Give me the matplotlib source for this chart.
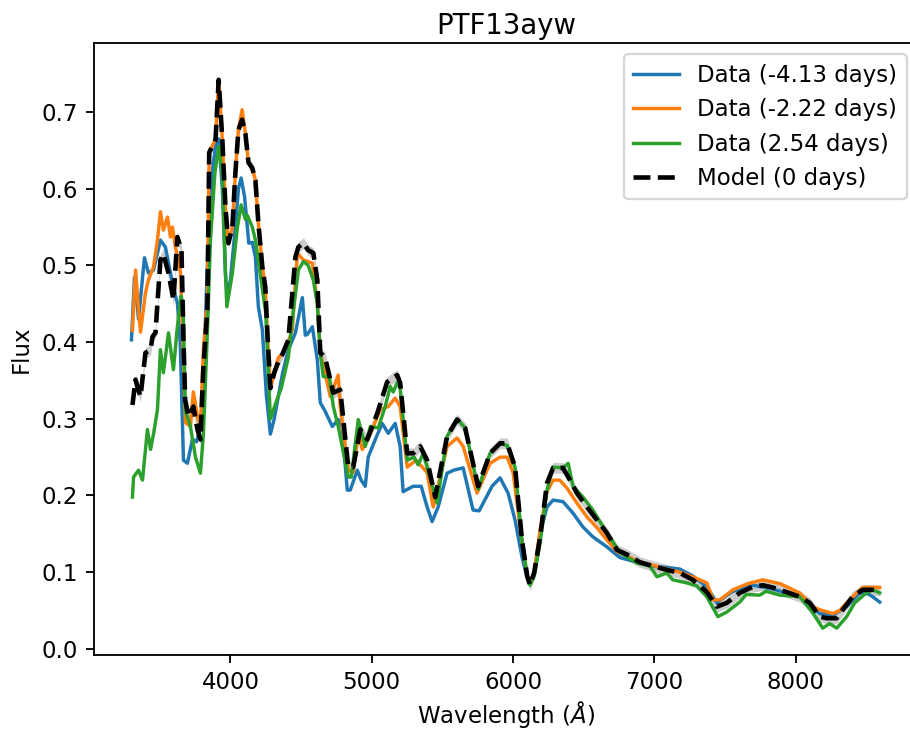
import matplotlib
matplotlib.use('Agg')
import matplotlib.pyplot as plt
import numpy as np

# blue: Data (-4.13 days)
wave_b = [3300, 3322, 3350, 3392, 3420, 3456, 3484, 3505, 3540, 3576, 3611, 3625, 3645, 3668, 3696,
          3731, 3760, 3790, 3809, 3837, 3870, 3895, 3917, 3943, 3965, 3975, 4000, 4035, 4057, 4076,
          4100, 4120, 4130, 4155, 4177, 4198, 4226, 4255, 4283, 4310, 4340, 4370, 4410, 4460, 4509,
          4530, 4544, 4580, 4615, 4636, 4670, 4721, 4763, 4790, 4827, 4848, 4898, 4925, 4954, 4975,
          5025, 5074, 5117, 5166, 5201, 5222, 5293, 5350, 5392, 5427, 5470, 5533, 5580, 5647, 5717,
          5760, 5851, 5908, 5965, 6014, 6063, 6100, 6120, 6150, 6191, 6240, 6283, 6353, 6424, 6494,
          6565, 6664, 6756, 6897, 6968, 7088, 7180, 7272, 7371, 7442, 7475, 7555, 7696, 7837, 8028,
          8170, 8262, 8360, 8452, 8500, 8544, 8594]
flux_b = [0.403, 0.485, 0.43, 0.51, 0.49, 0.494, 0.516, 0.533, 0.524, 0.49, 0.46, 0.451, 0.40, 0.246, 0.242,
          0.273, 0.27, 0.29, 0.35, 0.50, 0.62, 0.655, 0.665, 0.60, 0.49, 0.464, 0.48, 0.55, 0.60, 0.614,
          0.59, 0.55, 0.529, 0.53, 0.511, 0.446, 0.416, 0.33, 0.28, 0.30, 0.33, 0.36, 0.39, 0.412, 0.458,
          0.409, 0.41, 0.42, 0.377, 0.321, 0.31, 0.29, 0.299, 0.29, 0.207, 0.207, 0.233, 0.22, 0.212, 0.25,
          0.273, 0.294, 0.281, 0.294, 0.264, 0.205, 0.212, 0.212, 0.185, 0.166, 0.185, 0.229, 0.233, 0.236, 0.181,
          0.18, 0.212, 0.223, 0.203, 0.168, 0.12, 0.092, 0.085, 0.10, 0.151, 0.185, 0.194, 0.192, 0.177, 0.159,
          0.146, 0.133, 0.119, 0.112, 0.108, 0.106, 0.104, 0.095, 0.081, 0.06, 0.065, 0.075, 0.083, 0.078, 0.068,
          0.046, 0.044, 0.055, 0.073, 0.073, 0.068, 0.061]

# orange: Data (-2.22 days)
wave_o = [3307, 3329, 3350, 3364, 3399, 3420, 3456, 3484, 3505, 3526, 3555, 3576, 3590, 3611, 3632,
          3647, 3664, 3682, 3717, 3738, 3767, 3788, 3809, 3837, 3850, 3870, 3895, 3917, 3943, 3965,
          3986, 4014, 4035, 4057, 4083, 4106, 4128, 4155, 4177, 4198, 4226, 4247, 4265, 4283, 4310,
          4340, 4370, 4410, 4438, 4474, 4517, 4580, 4615, 4636, 4707, 4763, 4777, 4834, 4869, 4905,
          4933, 4990, 5060, 5117, 5166, 5201, 5251, 5314, 5392, 5435, 5533, 5604, 5647, 5745, 5837,
          5908, 5958, 6000, 6063, 6100, 6120, 6150, 6191, 6240, 6283, 6330, 6380, 6452, 6523, 6594,
          6664, 6735, 6806, 6897, 6989, 7088, 7180, 7272, 7371, 7415, 7464, 7555, 7660, 7767, 7890,
          8028, 8120, 8170, 8262, 8311, 8360, 8431, 8473, 8594]
flux_o = [0.415, 0.494, 0.442, 0.413, 0.464, 0.481, 0.498, 0.533, 0.57, 0.546, 0.563, 0.537, 0.55, 0.524, 0.507,
          0.49, 0.40, 0.295, 0.29, 0.335, 0.303, 0.29, 0.39, 0.455, 0.647, 0.655, 0.664, 0.742, 0.664, 0.576,
          0.529, 0.55, 0.62, 0.677, 0.703, 0.672, 0.634, 0.627, 0.611, 0.555, 0.498, 0.472, 0.40, 0.34, 0.36,
          0.38, 0.385, 0.40, 0.416, 0.516, 0.507, 0.503, 0.45, 0.386, 0.329, 0.357, 0.316, 0.233, 0.23, 0.282,
          0.26, 0.28, 0.312, 0.316, 0.327, 0.316, 0.237, 0.246, 0.23, 0.185, 0.264, 0.275, 0.264, 0.203, 0.242,
          0.25, 0.25, 0.23, 0.14, 0.095, 0.085, 0.10, 0.155, 0.205, 0.22, 0.22, 0.21, 0.19, 0.172, 0.158,
          0.142, 0.127, 0.121, 0.113, 0.109, 0.104, 0.10, 0.094, 0.086, 0.064, 0.064, 0.077, 0.085, 0.09, 0.085,
          0.073, 0.055, 0.051, 0.046, 0.05, 0.06, 0.073, 0.08, 0.08]

# green: Data (2.54 days)
wave_g = [3307, 3315, 3350, 3378, 3413, 3435, 3456, 3484, 3505, 3526, 3562, 3597, 3625, 3650, 3665,
          3682, 3717, 3753, 3788, 3809, 3837, 3859, 3890, 3917, 3943, 3965, 3975, 4014, 4050, 4076,
          4106, 4120, 4155, 4177, 4250, 4283, 4320, 4360, 4410, 4445, 4481, 4517, 4550, 4587, 4615,
          4636, 4657, 4700, 4728, 4763, 4834, 4855, 4905, 4954, 4990, 5046, 5095, 5131, 5152, 5180,
          5201, 5251, 5300, 5328, 5364, 5463, 5533, 5604, 5661, 5753, 5837, 5908, 5958, 6014, 6063,
          6100, 6120, 6150, 6191, 6240, 6283, 6353, 6390, 6424, 6494, 6565, 6664, 6760, 6876, 6968,
          7018, 7088, 7130, 7230, 7300, 7371, 7449, 7512, 7604, 7650, 7745, 7790, 7890, 8028, 8120,
          8191, 8240, 8290, 8360, 8417, 8500, 8544, 8594]
flux_g = [0.198, 0.224, 0.233, 0.22, 0.286, 0.26, 0.28, 0.312, 0.39, 0.36, 0.412, 0.364, 0.42, 0.46, 0.45,
          0.31, 0.29, 0.25, 0.229, 0.28, 0.412, 0.533, 0.62, 0.655, 0.62, 0.49, 0.446, 0.49, 0.55, 0.579,
          0.56, 0.565, 0.55, 0.533, 0.438, 0.30, 0.32, 0.34, 0.38, 0.44, 0.494, 0.505, 0.50, 0.481, 0.45,
          0.386, 0.355, 0.355, 0.316, 0.29, 0.224, 0.224, 0.299, 0.264, 0.29, 0.288, 0.316, 0.342, 0.335, 0.347,
          0.34, 0.246, 0.25, 0.24, 0.255, 0.19, 0.277, 0.30, 0.288, 0.208, 0.255, 0.268, 0.265, 0.237, 0.142,
          0.095, 0.083, 0.095, 0.138, 0.207, 0.237, 0.236, 0.242, 0.212, 0.198, 0.181, 0.151, 0.125, 0.112, 0.108,
          0.094, 0.099, 0.09, 0.086, 0.082, 0.068, 0.042, 0.048, 0.061, 0.071, 0.07, 0.075, 0.07, 0.068, 0.047,
          0.027, 0.033, 0.027, 0.042, 0.06, 0.073, 0.077, 0.073]

# black dashed: Model (0 days)
wave_m = [3307, 3329, 3345, 3364, 3399, 3435, 3449, 3470, 3484, 3505, 3526, 3562, 3597, 3625, 3654,
          3668, 3680, 3703, 3738, 3767, 3788, 3809, 3837, 3850, 3870, 3895, 3917, 3943, 3965, 3986,
          4014, 4035, 4057, 4083, 4106, 4128, 4155, 4177, 4198, 4226, 4247, 4265, 4283, 4310, 4340,
          4370, 4410, 4460, 4481, 4517, 4550, 4587, 4615, 4636, 4670, 4728, 4777, 4834, 4869, 4919,
          4968, 5039, 5109, 5180, 5201, 5251, 5293, 5343, 5392, 5449, 5533, 5604, 5661, 5753, 5837,
          5908, 5958, 6014, 6063, 6100, 6120, 6150, 6191, 6240, 6283, 6353, 6403, 6452, 6523, 6594,
          6664, 6735, 6806, 6897, 6989, 7088, 7180, 7272, 7371, 7442, 7512, 7604, 7696, 7767, 7837,
          7936, 8028, 8099, 8170, 8219, 8290, 8332, 8403, 8473, 8544, 8594]
flux_m = [0.318, 0.351, 0.34, 0.329, 0.386, 0.39, 0.407, 0.412, 0.451, 0.507, 0.515, 0.49, 0.455, 0.537, 0.52,
          0.403, 0.325, 0.303, 0.316, 0.286, 0.273, 0.368, 0.442, 0.647, 0.655, 0.664, 0.742, 0.664, 0.576, 0.529,
          0.55, 0.62, 0.677, 0.69, 0.672, 0.634, 0.627, 0.611, 0.555, 0.498, 0.472, 0.40, 0.34, 0.36, 0.375,
          0.385, 0.403, 0.511, 0.524, 0.529, 0.52, 0.516, 0.481, 0.386, 0.38, 0.334, 0.338, 0.237, 0.237, 0.286,
          0.273, 0.307, 0.348, 0.357, 0.347, 0.255, 0.255, 0.264, 0.246, 0.198, 0.277, 0.299, 0.288, 0.212, 0.255,
          0.268, 0.268, 0.237, 0.142, 0.095, 0.083, 0.10, 0.145, 0.216, 0.236, 0.236, 0.22, 0.203, 0.185, 0.168,
          0.151, 0.129, 0.123, 0.113, 0.108, 0.103, 0.099, 0.09, 0.074, 0.055, 0.06, 0.073, 0.081, 0.083, 0.08,
          0.074, 0.068, 0.06, 0.042, 0.04, 0.04, 0.051, 0.068, 0.077, 0.077, 0.076]
model_err = 0.007

labels = ['Data (-4.13 days)', 'Data (-2.22 days)', 'Data (2.54 days)', 'Model (0 days)']

dpi = 165
fig = plt.figure(figsize=(910 / dpi, 731 / dpi), dpi=dpi)
ax = fig.add_axes([94 / 910, 76 / 731, 824 / 910, 612 / 731])

ax.plot(wave_b, flux_b, color='#1f77b4', label=labels[0])
ax.plot(wave_o, flux_o, color='#ff7f0e', label=labels[1])
ax.plot(wave_g, flux_g, color='#2ca02c', label=labels[2])
fm = np.array(flux_m)
ax.fill_between(wave_m, fm - model_err, fm + model_err, color='grey', alpha=0.4, lw=0)
ax.plot(wave_m, flux_m, color='black', linestyle='--', lw=2, label=labels[3])

ax.set_xlim(3035, 8865)
ax.set_ylim(-0.008, 0.79)
ax.set_xlabel('Wavelength ($\\AA$)', labelpad=2)
ax.set_ylabel('Flux')
ax.set_title('PTF13ayw', pad=4)
ax.legend(loc='upper right')

fig.savefig('out.png', dpi=dpi)
